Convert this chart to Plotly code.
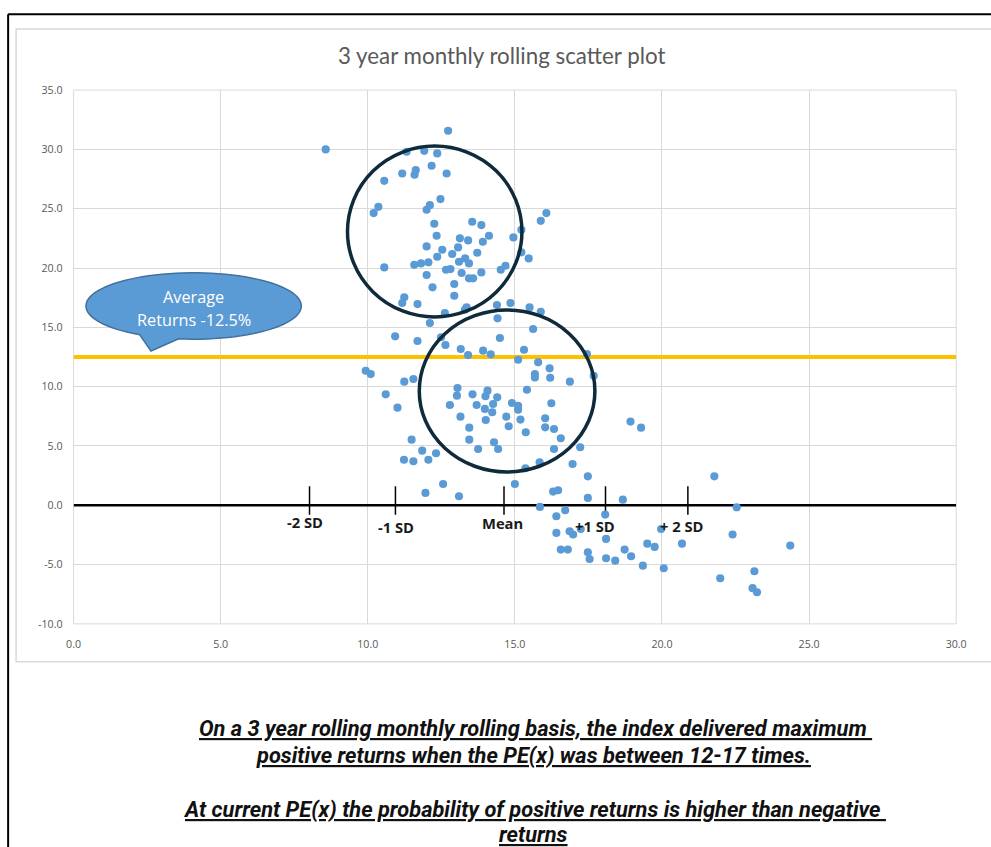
import numpy as np
import plotly.graph_objects as go

# PE(x) vs 3-year rolling return (%)
pe_values = [
    8.57, 12.73, 11.32, 11.92, 12.36, 12.17, 11.63, 11.59, 11.17, 12.68,
    10.56, 12.47, 12.11, 12.00, 10.36, 10.20, 12.26, 13.55, 13.86, 12.34,
    14.12, 13.13, 13.41, 14.95, 13.91, 12.00, 13.07, 12.53, 13.72, 12.87,
    12.36, 13.31, 13.10, 13.44, 11.58, 11.81, 12.06, 10.56, 12.66, 12.81,
    13.19, 13.86, 12.00, 14.52, 14.68, 13.44, 13.58, 12.94, 12.20, 12.94,
    11.24, 11.17, 11.69, 12.62, 13.36, 13.30, 14.39, 14.85, 15.50, 15.88,
    16.07, 15.88, 15.22, 15.22, 15.47,
    12.11, 10.93, 11.69, 12.49, 12.64, 14.49, 14.41, 15.62, 13.16, 13.41,
    13.92, 14.18, 15.31, 15.11, 15.79, 16.18, 15.68, 15.68, 16.20, 9.93,
    10.10, 11.24, 11.55, 10.61, 11.01, 13.05, 13.03, 13.56, 14.07, 14.00,
    14.40, 14.26, 13.70, 12.79, 13.98, 14.23, 14.90, 15.11, 15.11, 15.41,
    16.24, 13.15, 14.01, 14.71, 15.19, 16.03, 13.45, 14.79, 16.03, 16.33,
    15.37, 13.45, 13.75, 14.29, 14.43, 11.49, 11.85, 12.32, 11.23, 11.55,
    12.06, 12.56, 11.96, 13.10, 15.00, 15.36, 15.84, 16.33,
    17.45, 16.87, 17.68, 16.56, 17.22, 16.96, 17.48, 18.93, 19.29, 21.78,
    16.30, 16.47, 17.48, 18.67, 15.85, 16.71, 16.41, 18.07, 22.54, 17.24,
    16.86, 16.98, 16.41, 19.97, 22.40, 18.10, 19.50, 19.75, 20.68, 24.36,
    16.56, 16.80, 18.73, 18.95, 17.48, 17.54, 18.10, 18.41, 19.35, 20.06,
    23.14, 21.98, 23.08, 23.23,
]
return_values = [
    30.00, 31.57, 29.80, 29.88, 29.66, 28.62, 28.25, 27.86, 27.97, 27.97,
    27.35, 25.81, 25.30, 24.91, 25.16, 24.63, 23.73, 23.90, 23.62, 22.72,
    22.72, 22.50, 22.33, 22.58, 22.21, 21.82, 21.74, 21.54, 21.29, 21.18,
    20.95, 20.81, 20.53, 20.39, 20.27, 20.39, 20.48, 20.05, 19.85, 19.91,
    19.58, 19.63, 19.41, 19.85, 20.19, 19.13, 19.13, 18.65, 18.37, 17.66,
    17.53, 17.05, 16.96, 16.20, 16.68, 16.48, 16.88, 17.05, 16.68, 16.31,
    24.63, 23.98, 23.22, 21.32, 20.81,
    15.36, 14.24, 13.85, 14.16, 13.51, 14.10, 15.76, 14.86, 13.17, 12.66,
    13.03, 12.72, 13.11, 12.27, 12.05, 11.54, 11.06, 10.78, 10.75, 11.34,
    11.06, 10.42, 10.64, 9.35, 8.23, 9.88, 9.24, 9.35, 9.66, 9.19,
    9.10, 8.54, 8.45, 8.45, 8.12, 7.84, 8.62, 8.39, 8.06, 9.74,
    8.60, 7.47, 7.19, 7.47, 7.22, 7.33, 6.54, 6.66, 6.57, 6.43,
    6.15, 5.53, 4.74, 5.31, 4.74, 5.53, 4.60, 4.38, 3.84, 3.71,
    3.84, 1.79, 1.04, 0.76, 1.79, 3.12, 3.62, 4.74,
    12.75, 10.42, 10.92, 5.65, 4.89, 3.48, 2.44, 7.05, 6.54, 2.44,
    1.15, 1.26, 0.62, 0.47, -0.14, -0.42, -0.93, -0.79, -0.17, -2.00,
    -2.19, -2.47, -2.33, -2.00, -2.47, -2.84, -3.24, -3.51, -3.24, -3.40,
    -3.74, -3.74, -3.74, -4.30, -3.96, -4.53, -4.47, -4.67, -5.09, -5.31,
    -5.56, -6.15, -6.99, -7.33,
]

x_ticks = [0, 5, 10, 15, 20, 25, 30]
x_tick_labels = ["0.0", "5.0", "10.0", "15.0", "20.0", "25.0", "30.0"]
y_ticks = [-10, -5, 0, 5, 10, 15, 20, 25, 30, 35]
y_tick_labels = ["-10.0", "-5.0", "0.0", "5.0", "10.0", "15.0", "20.0", "25.0", "30.0", "35.0"]

average_return = 12.5
sd_positions = [8.02, 10.94, 14.63, 18.08, 20.88]
sd_labels = ["-2 SD", "-1 SD", "Mean", "+1 SD", "+ 2 SD"]
sd_label_x = [7.86, 10.97, 14.57, 17.72, 20.67]
sd_label_y = [-1.45, -1.85, -1.5, -1.75, -1.75]

# Layout positions are written in on-screen pixels (SCREEN_W x SCREEN_H).
# The page shows the figure after an 8px body margin and a slight downscale,
# so screen pixels are converted to figure pixels below.
SCREEN_W, SCREEN_H = 991, 847
PAGE_MARGIN = 8
VIEW_SCALE = 0.984
W = int(round(SCREEN_W / VIEW_SCALE - PAGE_MARGIN))
H = int(round(SCREEN_H / VIEW_SCALE - PAGE_MARGIN))
PLOT_L, PLOT_R, PLOT_T, PLOT_B = 74.6, 959.0, 91.0, 625.0


def to_fig(p):
    return p / VIEW_SCALE - PAGE_MARGIN


def fx(p):
    return to_fig(p) / W


def fy(p):
    return 1 - to_fig(p) / H


def fs(size):
    # font size in figure pixels for a given on-screen size
    return size / VIEW_SCALE


fig = go.Figure()
fig.add_trace(go.Scatter(
    x=pe_values, y=return_values, mode="markers",
    marker=dict(color="#5B9BD5", size=fs(8), line=dict(width=0)),
    hoverinfo="x+y", showlegend=False,
))

shapes = []
# plot-area border
shapes.append(dict(type="rect", xref="x domain", yref="y domain", x0=0, x1=1, y0=0, y1=1,
                   line=dict(color="#D9D9D9", width=1), layer="below"))
# average line and zero line
shapes.append(dict(type="line", xref="x", yref="y", x0=0, x1=30, y0=average_return, y1=average_return,
                   line=dict(color="#FFC000", width=3.8), layer="between"))
shapes.append(dict(type="line", xref="x", yref="y", x0=0, x1=30, y0=0, y1=0,
                   line=dict(color="#000000", width=2.5), layer="between"))
# standard-deviation tick marks
for sx in sd_positions:
    shapes.append(dict(type="line", xref="x", yref="y", x0=sx, x1=sx, y0=1.6, y1=-0.8,
                       line=dict(color="#000000", width=1.5), layer="between"))
# highlighted clusters
shapes.append(dict(type="circle", xref="x", yref="y", x0=9.31, x1=15.24, y0=15.88, y1=30.28,
                   line=dict(color="#0E2A3B", width=3.5), layer="above"))
shapes.append(dict(type="circle", xref="x", yref="y", x0=11.75, x1=17.72, y0=2.81, y1=16.46,
                   line=dict(color="#0E2A3B", width=3.5), layer="above"))

# speech-bubble callout: ellipse with a tail pointing at the average line
cx, cy, rx, ry = 4.08, 16.80, 3.66, 2.80
theta = np.radians(np.linspace(262, 600, 90))
ex = cx + rx * np.cos(theta)
ey = cy + ry * np.sin(theta)
tip = (2.63, 13.0)
path = "M {:.3f},{:.3f} ".format(ex[0], ey[0])
path += " ".join("L {:.3f},{:.3f}".format(a, b) for a, b in zip(ex[1:], ey[1:]))
path += " L {:.3f},{:.3f} Z".format(*tip)
shapes.append(dict(type="path", xref="x", yref="y", path=path,
                   fillcolor="#5B9BD5", line=dict(color="#41719C", width=1.5), layer="above"))

# outer frame of the slide
shapes.append(dict(type="rect", xref="paper", yref="paper", x0=fx(17), x1=fx(1010), y0=fy(663), y1=fy(30),
                   line=dict(color="#D9D9D9", width=1.5), layer="below"))
shapes.append(dict(type="line", xref="paper", yref="paper", x0=fx(9), x1=fx(9), y0=fy(15), y1=fy(870),
                   line=dict(color="#000000", width=2)))
shapes.append(dict(type="line", xref="paper", yref="paper", x0=fx(9), x1=fx(1010), y0=fy(15), y1=fy(15),
                   line=dict(color="#000000", width=2)))

annotations = []
annotations.append(dict(text="3 year monthly rolling scatter plot", xref="paper", yref="paper",
                        x=fx(503), y=fy(56), showarrow=False, xanchor="center", yanchor="middle",
                        font=dict(family="Lato", size=fs(22), color="#595959")))
for lx, ly, lt in zip(sd_label_x, sd_label_y, sd_labels):
    annotations.append(dict(text="<b>" + lt + "</b>", xref="x", yref="y", x=lx, y=ly,
                            showarrow=False, xanchor="center", yanchor="middle",
                            font=dict(family="Open Sans", size=fs(14.5), color="#1A1A1A")))
annotations.append(dict(text="Average", xref="x", yref="y", x=cx, y=17.55, showarrow=False,
                        xanchor="center", yanchor="middle",
                        font=dict(family="Open Sans", size=fs(16), color="#FFFFFF")))
annotations.append(dict(text="Returns -12.5%", xref="x", yref="y", x=cx, y=15.61, showarrow=False,
                        xanchor="center", yanchor="middle",
                        font=dict(family="Open Sans", size=fs(16), color="#FFFFFF")))

notes = [
    ("On a 3 year rolling monthly rolling basis, the index delivered maximum ", 537, 730),
    ("positive returns when the PE(x) was between 12-17 times.", 535, 757),
    ("At current PE(x) the probability of positive returns is higher than negative ", 536, 811),
    ("returns", 535.5, 836),
]
for txt, nx, ny in notes:
    annotations.append(dict(text="<b><i><u>" + txt + "</u></i></b>", xref="paper", yref="paper",
                            x=fx(nx), y=fy(ny), showarrow=False, xanchor="center", yanchor="middle",
                            font=dict(family="Roboto", size=fs(21.5), color="#111111")))

axis_font = dict(family="Open Sans", size=fs(10.5), color="#595959")
fig.update_layout(
    width=W, height=H, autosize=False,
    margin=dict(l=0, r=0, t=0, b=0, pad=0),
    paper_bgcolor="#FFFFFF", plot_bgcolor="#FFFFFF",
    xaxis=dict(domain=[fx(PLOT_L), fx(PLOT_R)], range=[0, 30], tickvals=x_ticks, ticktext=x_tick_labels,
               showgrid=True, gridcolor="#D9D9D9", gridwidth=1, zeroline=False, showline=False,
               ticks="", tickfont=axis_font, ticklabelstandoff=12, fixedrange=True),
    yaxis=dict(domain=[fy(PLOT_B), fy(PLOT_T)], range=[-10, 35], tickvals=y_ticks, ticktext=y_tick_labels,
               showgrid=True, gridcolor="#D9D9D9", gridwidth=1, zeroline=False, showline=False,
               ticks="", tickfont=axis_font, ticklabelstandoff=10, fixedrange=True),
    shapes=shapes, annotations=annotations,
    showlegend=False,
)

fig.write_html("out.html")
